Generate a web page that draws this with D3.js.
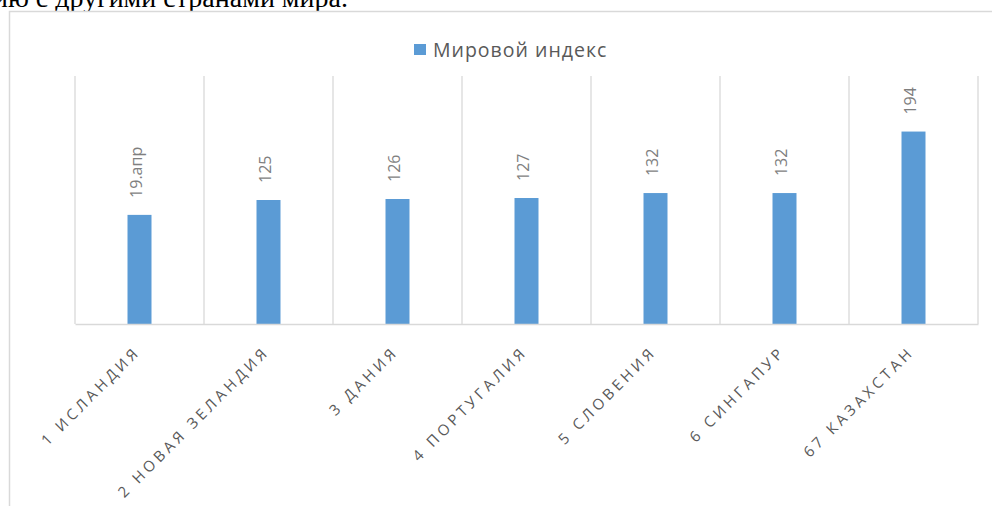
<!DOCTYPE html>
<html lang="ru">
<head>
<meta charset="utf-8">
<title>Мировой индекс</title>
<script src="https://cdn.jsdelivr.net/npm/d3@7/dist/d3.min.js"></script>
<style>
  html, body { margin: 0; padding: 0; background: #fff; overflow: hidden; }
  svg { display: block; }
</style>
</head>
<body>
<svg id="chart" width="992" height="506"></svg>
<script>
// Countries with their place in the ranking
const categories = [
  "1 ИСЛАНДИЯ",
  "2 НОВАЯ ЗЕЛАНДИЯ",
  "3 ДАНИЯ",
  "4 ПОРТУГАЛИЯ",
  "5 СЛОВЕНИЯ",
  "6 СИНГАПУР",
  "67 КАЗАХСТАН"
];
// Series "Мировой индекс"
const seriesName = "Мировой индекс";
const values = [110, 125, 126, 127, 132, 132, 194];
// Labels as shown on the bars (the first cell carries a date format: serial 110 = 19 апреля)
const valueLabels = ["19.апр", "125", "126", "127", "132", "132", "194"];
// Hidden value axis range
const yDomain = [0, 250];

const svg = d3.select("#chart");

// Line of body text above the chart
svg.append("text")
  .attr("x", 348)
  .attr("y", 7)
  .attr("text-anchor", "end")
  .attr("font-family", "'Liberation Serif', 'Times New Roman', serif")
  .attr("font-size", 28)
  .attr("fill", "#000")
  .text("по сравнению с другими странами мира.");

// Chart frame
svg.append("rect")
  .attr("x", 9.5).attr("y", 11.5)
  .attr("width", 1100).attr("height", 700)
  .attr("fill", "#fff")
  .attr("stroke", "#d9d9d9")
  .attr("stroke-width", 1.5);

const plot = { left: 75, right: 978, top: 76, bottom: 324 };

const x = d3.scaleBand()
  .domain(categories)
  .range([plot.left, plot.right])
  .padding(0);

const y = d3.scaleLinear()
  .domain(yDomain)
  .range([plot.bottom, plot.top]);

const barW = x.bandwidth() * 0.186;
const grid = "#d9d9d9";

// Vertical gridlines at category boundaries
const bounds = categories.map(c => x(c)).concat([x(categories[categories.length - 1]) + x.bandwidth()]);
svg.append("g")
  .selectAll("line")
  .data(bounds)
  .join("line")
  .attr("x1", d => d).attr("x2", d => d)
  .attr("y1", plot.top).attr("y2", plot.bottom)
  .attr("stroke", grid)
  .attr("stroke-width", 1.3);

// Bars
svg.append("g")
  .selectAll("rect")
  .data(values)
  .join("rect")
  .attr("x", (d, i) => x(categories[i]) + x.bandwidth() / 2 - barW / 2)
  .attr("y", d => y(d))
  .attr("width", barW)
  .attr("height", d => y(0) - y(d))
  .attr("fill", "#5b9bd5");

// Category axis
const xAxis = svg.append("g")
  .attr("transform", `translate(0,${plot.bottom})`)
  .call(d3.axisBottom(x).tickSize(0).tickPadding(0));
xAxis.select(".domain")
  .attr("stroke", grid)
  .attr("stroke-width", 1.5);
xAxis.selectAll(".tick text")
  .attr("font-family", "'Open Sans', 'Noto Sans', sans-serif")
  .attr("font-size", 15)
  .attr("letter-spacing", "3.7px")
  .attr("fill", "#595959")
  .attr("text-anchor", "end")
  .attr("dy", "0.35em")
  .attr("transform", "translate(-2,25) rotate(-45)");

// Value labels above bars
svg.append("g")
  .selectAll("text")
  .data(values)
  .join("text")
  .attr("transform", (d, i) =>
    `translate(${x(categories[i]) + x.bandwidth() / 2 - 3},${y(d) - 17}) rotate(-90)`)
  .attr("dy", "0.35em")
  .attr("font-family", "'Open Sans', 'Noto Sans', sans-serif")
  .attr("font-size", 16)
  .attr("fill", "#7f7f7f")
  .text((d, i) => valueLabels[i]);

// Legend
const legend = svg.append("g").attr("transform", "translate(414,44)");
legend.append("rect")
  .attr("width", 12).attr("height", 11)
  .attr("fill", "#5b9bd5");
legend.append("text")
  .attr("x", 19).attr("y", 12.5)
  .attr("font-family", "'Open Sans', 'Noto Sans', sans-serif")
  .attr("font-size", 19.5)
  .attr("letter-spacing", "1px")
  .attr("fill", "#595959")
  .text(seriesName);
</script>
</body>
</html>
